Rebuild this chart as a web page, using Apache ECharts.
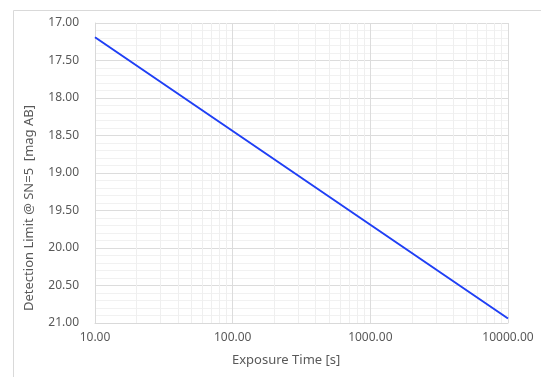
<!DOCTYPE html>
<html>
<head>
<meta charset="utf-8">
<script src="https://cdn.jsdelivr.net/npm/echarts@6/dist/echarts.min.js"></script>
<style>html,body{margin:0;padding:0;background:#fff}#c{width:541px;height:377px}</style>
</head>
<body>
<div id="c"></div>
<script>
// Data
const exposureTimes = [10, 100, 1000, 10000];
const detectionLimits = [17.19, 18.44, 19.69, 20.94];
const xTickValues = [10, 100, 1000, 10000];
const yTickValues = [17.0, 17.5, 18.0, 18.5, 19.0, 19.5, 20.0, 20.5, 21.0];
const xMinorGrid = [20,30,40,50,60,70,80,90,200,300,400,500,600,700,800,900,2000,3000,4000,5000,6000,7000,8000,9000];
const xTitle = 'Exposure Time [s]';
const yTitle = 'Detection Limit @ SN=5  [mag AB]';

const chart = echarts.init(document.getElementById('c'), null, {renderer: 'canvas'});
const font = '"Noto Sans", "Open Sans", sans-serif';
const labelColor = '#595959';

chart.setOption({
  animation: false,
  backgroundColor: '#fff',
  grid: {left: 95, right: 33, top: 23, bottom: 54},
  xAxis: {
    type: 'log', logBase: 10, min: 10, max: 10000,
    axisLine: {show: true, lineStyle: {color: '#d9d9d9', width: 1}},
    axisTick: {show: false},
    axisLabel: {color: labelColor, fontFamily: font, fontSize: 12, margin: 9,
      formatter: v => Number(v).toFixed(2)},
    splitLine: {show: true, lineStyle: {color: '#dcdcdc', width: 1}},
    minorTick: {show: false}, minorSplitLine: {show: false}
  },
  yAxis: {
    type: 'value', inverse: true, min: 17, max: 21, interval: 0.5,
    axisLine: {show: true, lineStyle: {color: '#d9d9d9', width: 1}},
    axisTick: {show: false},
    axisLabel: {color: labelColor, fontFamily: font, fontSize: 12, margin: 16,
      formatter: v => Number(v).toFixed(2)},
    splitLine: {show: true, lineStyle: {color: '#dcdcdc', width: 1}},
    minorTick: {show: false, splitNumber: 5},
    minorSplitLine: {show: true, lineStyle: {color: '#f1f1f1', width: 1}}
  },
  series: [
    {
      type: 'line', data: [], z: 1, silent: true,
      markLine: {
        silent: true, symbol: 'none', label: {show: false},
        lineStyle: {color: '#efefef', width: 1, type: 'solid'},
        data: xMinorGrid.map(v => ({xAxis: v}))
      }
    },
    {
      type: 'line', z: 5,
      data: exposureTimes.map((t, i) => [t, detectionLimits[i]]),
      showSymbol: false, symbol: 'none',
      lineStyle: {color: '#1f3ff5', width: 2}
    }
  ],
  graphic: [
    {type: 'line', silent: true, shape: {x1: 13.5, y1: 10.5, x2: 541, y2: 10.5}, style: {stroke: '#d9d9d9', lineWidth: 1}},
    {type: 'line', silent: true, shape: {x1: 13.5, y1: 10.5, x2: 13.5, y2: 377}, style: {stroke: '#d9d9d9', lineWidth: 1}},
    {type: 'text', left: 232, top: 354, style: {text: xTitle, fill: labelColor, font: '13px ' + font}},
    {type: 'text', x: 29, y: 208, rotation: Math.PI / 2,
      style: {text: yTitle, fill: labelColor, font: '13px ' + font, align: 'center', verticalAlign: 'middle'}}
  ]
});
</script>
</body>
</html>
